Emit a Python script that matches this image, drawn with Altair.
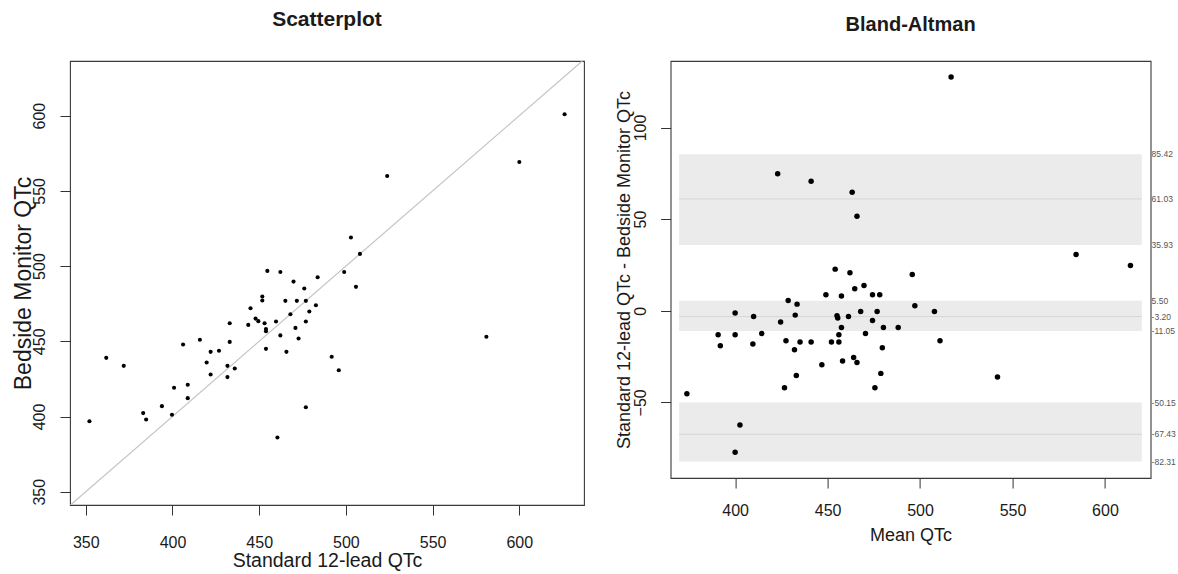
import altair as alt
import pandas as pd

# ---------------- Scatterplot data ----------------
standard_qtc = [352.1, 361.8, 371.9, 383.1, 384.8, 393.9, 399.7, 400.9, 406.1, 408.8,
                408.8, 415.8, 419.7, 422.0, 422.0, 426.8, 431.7, 431.7, 433.0, 433.0,
                435.9, 443.7, 445.0, 447.9, 449.5, 451.8, 451.8, 453.1, 453.9, 453.9,
                453.9, 454.7, 459.7, 460.5, 462.2, 462.2, 465.1, 465.7, 468.0, 469.8,
                470.9, 471.7, 472.7, 476.0, 476.9, 476.9, 476.9, 478.9, 482.7, 483.7,
                491.8, 495.9, 499.0, 502.9, 505.8, 508.1, 523.8, 581.0, 600.0, 626.1]
bedside_qtc = [396.9, 439.0, 433.7, 402.3, 398.0, 406.9, 401.2, 419.1, 447.9, 421.1,
               412.2, 451.0, 435.9, 443.0, 427.9, 443.7, 433.7, 426.2, 462.0, 449.6,
               431.9, 460.9, 472.0, 465.1, 463.4, 479.8, 477.1, 462.0, 458.1, 456.7,
               445.0, 496.8, 463.2, 386.1, 496.1, 453.9, 476.9, 443.0, 468.0, 489.7,
               458.9, 476.9, 451.9, 485.1, 476.9, 463.2, 406.2, 469.8, 474.0, 492.6,
               439.7, 430.8, 496.1, 519.0, 486.2, 508.1, 559.9, 453.0, 569.2, 600.9]
identity_line = [341.2, 636.3]

# ---------------- Bland-Altman data ----------------
mean_qtc = [373.9, 516.8, 423.0, 441.1, 463.3, 465.9, 584.4, 613.8, 454.1, 462.1,
            495.8, 469.7, 464.7, 449.1, 457.5, 474.3, 478.2, 428.7, 433.5, 497.2,
            400.0, 410.0, 432.5, 455.1, 455.5, 461.3, 467.9, 476.8, 507.8, 424.6,
            474.3, 457.5, 480.2, 488.2, 390.8, 400.0, 414.4, 456.1, 470.5, 392.0,
            409.6, 427.5, 435.1, 441.1, 452.1, 456.1, 510.8, 432.1, 479.6, 446.9,
            458.1, 464.1, 465.9, 433.1, 478.8, 541.9, 426.7, 475.6, 402.6, 400.0]
diff_qtc = [-45.3, 127.6, 74.7, 70.7, 64.7, 51.6, 30.7, 24.7, 22.7, 20.7,
            19.8, 13.8, 12.0, 8.7, 8.0, 8.7, 8.7, 5.6, 3.6, 2.7,
            -1.3, -3.1, -2.4, -2.7, -4.0, -3.1, -0.4, -0.4, -0.4, -6.2,
            -5.3, -9.1, -9.1, -9.1, -13.1, -13.1, -12.4, -13.1, -12.4, -19.1,
            -18.2, -16.4, -17.1, -17.1, -17.1, -17.1, -16.4, -21.3, -20.2, -29.5,
            -27.5, -25.5, -28.2, -35.3, -34.2, -36.2, -42.0, -42.0, -62.4, -77.3]

band_low = [35.93, -11.05, -82.31]
band_high = [85.42, 5.50, -50.15]
band_mid = [61.03, -3.20, -67.43]
label_vals = [85.42, 61.03, 35.93, 5.50, -3.20, -11.05, -50.15, -67.43, -82.31]
label_txt = ["85.42", "61.03", "35.93", "5.50", "-3.20", "-11.05", "-50.15", "-67.43", "-82.31"]

FONT = "Liberation Sans"
INK = "#1a1a1a"

# ---------------- Left panel ----------------
LW, LH = 514, 444
sc_df = pd.DataFrame({"std": standard_qtc, "bed": bedside_qtc})
id_df = pd.DataFrame({"a": identity_line, "b": identity_line})

lx_scale = alt.Scale(domain=[340.9, 637.3], nice=False, zero=False)
ly_scale = alt.Scale(domain=[341.2, 636.3], nice=False, zero=False)
lx_axis = alt.Axis(values=[350, 400, 450, 500, 550, 600], grid=False, domain=False,
                   tickSize=10, tickColor="#333", labelFontSize=16, labelPadding=19,
                   labelColor=INK, titleFontSize=19.5, titleFontWeight="normal",
                   titleColor=INK, titleY=61, titleBaseline="alphabetic")
ly_axis = alt.Axis(values=[350, 400, 450, 500, 550, 600], grid=False, domain=False,
                   tickSize=10, tickColor="#333", labelFontSize=16, labelPadding=13,
                   labelAngle=-90, labelAlign="center", labelBaseline="bottom",
                   labelColor=INK, titleFontSize=23, titleFontWeight="normal",
                   titleColor=INK, titleX=-39.5, titleBaseline="alphabetic")

diag = alt.Chart(id_df).mark_line(color="#c4c4c4", strokeWidth=1.2, clip=True).encode(
    x=alt.X("a:Q", scale=lx_scale, axis=lx_axis, title="Standard 12-lead QTc"),
    y=alt.Y("b:Q", scale=ly_scale, axis=ly_axis, title="Bedside Monitor QTc"),
)
pts_l = alt.Chart(sc_df).mark_circle(color="black", opacity=1, size=17).encode(
    x=alt.X("std:Q", scale=lx_scale, axis=lx_axis, title="Standard 12-lead QTc"),
    y=alt.Y("bed:Q", scale=ly_scale, axis=ly_axis, title="Bedside Monitor QTc"),
)
left = alt.layer(diag, pts_l).properties(
    width=LW, height=LH,
    title=alt.TitleParams("Scatterplot", fontSize=21, fontWeight="bold", font=FONT,
                          color=INK, anchor="middle", baseline="alphabetic", offset=13.7),
)

# ---------------- Right panel ----------------
RW, RH = 480, 417
ba_df = pd.DataFrame({"m": mean_qtc, "d": diff_qtc})
band_df = pd.DataFrame({"lo": band_low, "hi": band_high, "c": band_mid})
lab_df = pd.DataFrame({"v": label_vals, "t": label_txt})

rx_scale = alt.Scale(domain=[365.1, 624.7], nice=False, zero=False)
ry_scale = alt.Scale(domain=[-91.3, 136.3], nice=False, zero=False)
YT = "Standard 12-lead QTc - Bedside Monitor QTc"
rx_axis = alt.Axis(values=[400, 450, 500, 550, 600], grid=False, domain=False,
                   tickSize=10, tickColor="#333", labelFontSize=16, labelPadding=14,
                   labelColor=INK, titleFontSize=18, titleFontWeight="normal",
                   titleColor=INK, titleY=62, titleBaseline="alphabetic")
ry_axis = alt.Axis(values=[-50, 0, 50, 100], grid=False, domain=False,
                   tickSize=10, tickColor="#333", labelFontSize=16, labelPadding=12,
                   labelAngle=-90, labelAlign="center", labelBaseline="bottom",
                   labelColor=INK, titleFontSize=18, titleFontWeight="normal",
                   titleColor=INK, titleX=-41, titleBaseline="alphabetic")

bands = alt.Chart(band_df).mark_rect(color="#ebebeb").encode(
    y=alt.Y("lo:Q", scale=ry_scale, axis=ry_axis, title=YT),
    y2="hi:Q",
    x=alt.value(8.5), x2=alt.value(RW - 8.8),
)
mids = alt.Chart(band_df).mark_rule(color="#d6d6d6", strokeWidth=1).encode(
    y=alt.Y("c:Q", scale=ry_scale, axis=ry_axis, title=YT),
    x=alt.value(8.5), x2=alt.value(RW - 8.8),
)
pts_r = alt.Chart(ba_df).mark_circle(color="black", opacity=1, size=30).encode(
    x=alt.X("m:Q", scale=rx_scale, axis=rx_axis, title="Mean QTc"),
    y=alt.Y("d:Q", scale=ry_scale, axis=ry_axis, title=YT),
)
labs = alt.Chart(lab_df).mark_text(align="left", baseline="middle", fontSize=8.5,
                                   font=FONT, color="#555").encode(
    y=alt.Y("v:Q", scale=ry_scale, axis=ry_axis, title=YT),
    x=alt.value(RW + 1),
    text="t:N",
)
right = alt.layer(bands, mids, pts_r, labs).properties(
    width=RW, height=RH,
    title=alt.TitleParams("Bland-Altman", fontSize=20, fontWeight="bold", font=FONT,
                          color=INK, anchor="middle", baseline="alphabetic", offset=9.7),
)

chart = alt.hconcat(left, right, spacing=86.6, bounds="flush").properties(
    padding={"left": 11, "top": 8, "right": 0, "bottom": 0},
    background="white",
).configure_view(
    stroke="#3a3a3a", strokeWidth=1.1
).configure_axis(
    labelFont=FONT, titleFont=FONT
).configure_text(font=FONT)

chart.save("out.html", embed_options={"renderer": "svg", "actions": False})
